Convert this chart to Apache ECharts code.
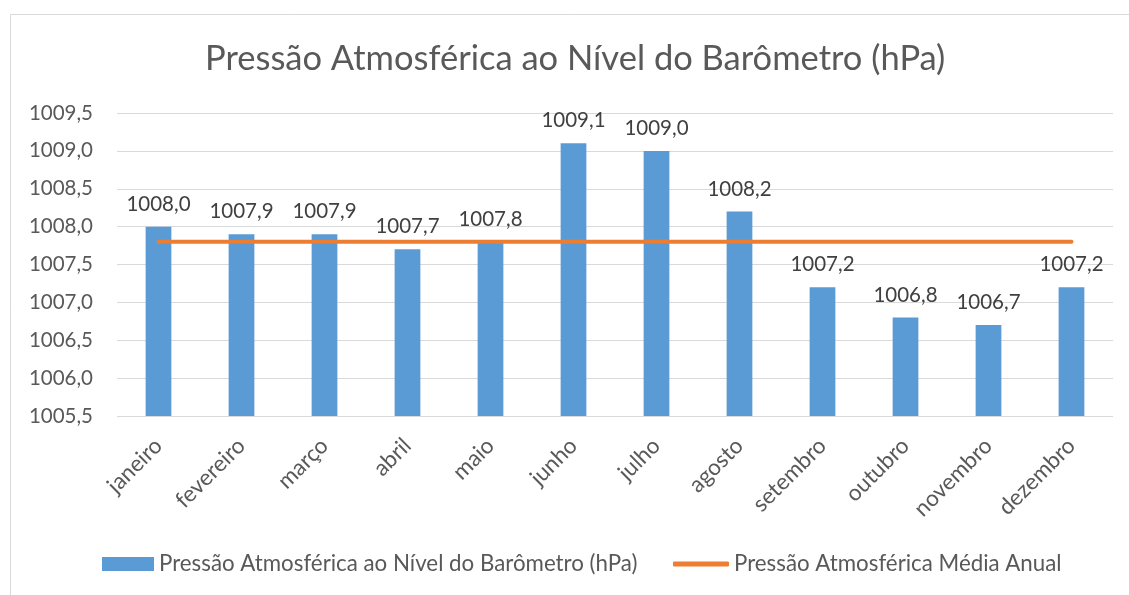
<!DOCTYPE html>
<html>
<head>
<meta charset="utf-8">
<script src="https://cdn.jsdelivr.net/npm/echarts@6/dist/echarts.min.js"></script>
<style>
  html, body { margin: 0; padding: 0; background: #ffffff; }
  #chart { width: 1129px; height: 595px; }
</style>
</head>
<body>
<div id="chart"></div>
<script>
// Monthly atmospheric pressure at barometer level (hPa)
const months = ['janeiro', 'fevereiro', 'março', 'abril', 'maio', 'junho',
                'julho', 'agosto', 'setembro', 'outubro', 'novembro', 'dezembro'];
const pressure = [1008.0, 1007.9, 1007.9, 1007.7, 1007.8, 1009.1,
                  1009.0, 1008.2, 1007.2, 1006.8, 1006.7, 1007.2];
// Annual mean pressure, drawn as a flat line across the months
const annualMean = [1007.8, 1007.8, 1007.8, 1007.8, 1007.8, 1007.8,
                    1007.8, 1007.8, 1007.8, 1007.8, 1007.8, 1007.8];

const barName = 'Pressão Atmosférica ao Nível do Barômetro (hPa)';
const lineName = 'Pressão Atmosférica Média Anual';
const font = 'Lato';
const fmt = v => Number(v).toFixed(1).replace('.', ',');

const chart = echarts.init(document.getElementById('chart'), null, { renderer: 'canvas' });
chart.setOption({
  animation: false,
  backgroundColor: '#ffffff',
  textStyle: { fontFamily: font },
  graphic: [{
    type: 'rect',
    shape: { x: 10.5, y: 14.5, width: 1140, height: 600 },
    style: { fill: 'none', stroke: '#d9d9d9', lineWidth: 1 },
    silent: true, z: -10
  }],
  title: {
    text: barName,
    left: 205,
    top: 41,
    padding: 0,
    textStyle: { fontFamily: font, fontSize: 34.5, fontWeight: 'normal', color: '#595959' }
  },
  legend: [{
    data: [{ name: barName, icon: 'rect' }],
    left: 102, top: 553, padding: 0,
    itemWidth: 52, itemHeight: 14,
    textStyle: { fontFamily: font, fontSize: 22.3, color: '#595959' }
  }, {
    data: [{ name: lineName, icon: 'roundRect' }],
    left: 673, top: 553, padding: 0,
    itemWidth: 56, itemHeight: 5,
    textStyle: { fontFamily: font, fontSize: 22.3, color: '#595959' }
  }],
  grid: { left: 117, right: 16, top: 113, bottom: 179, containLabel: false },
  xAxis: {
    type: 'category',
    data: months,
    axisLine: { show: false },
    axisTick: { show: false },
    axisLabel: {
      rotate: 45, interval: 0, margin: 26,
      fontFamily: font, fontSize: 22.5, color: '#595959'
    }
  },
  yAxis: {
    type: 'value',
    min: 1005.5, max: 1009.5, interval: 0.5,
    axisLine: { show: false },
    axisTick: { show: false },
    splitLine: { lineStyle: { color: '#d9d9d9', width: 1 } },
    axisLabel: {
      formatter: v => fmt(v),
      margin: 24,
      fontFamily: font, fontSize: 20.5, color: '#595959'
    }
  },
  series: [{
    name: barName,
    type: 'bar',
    data: pressure,
    barWidth: '31%',
    itemStyle: { color: '#5b9bd5' },
    label: {
      show: true, position: 'top', distance: 12,
      formatter: p => fmt(p.value),
      fontFamily: font, fontSize: 20.5, color: '#404040'
    },
    z: 2
  }, {
    name: lineName,
    type: 'line',
    data: annualMean,
    symbol: 'none',
    lineStyle: { color: '#ed7d31', width: 4, cap: 'round' },
    itemStyle: { color: '#ed7d31' },
    z: 3
  }]
});
</script>
</body>
</html>
